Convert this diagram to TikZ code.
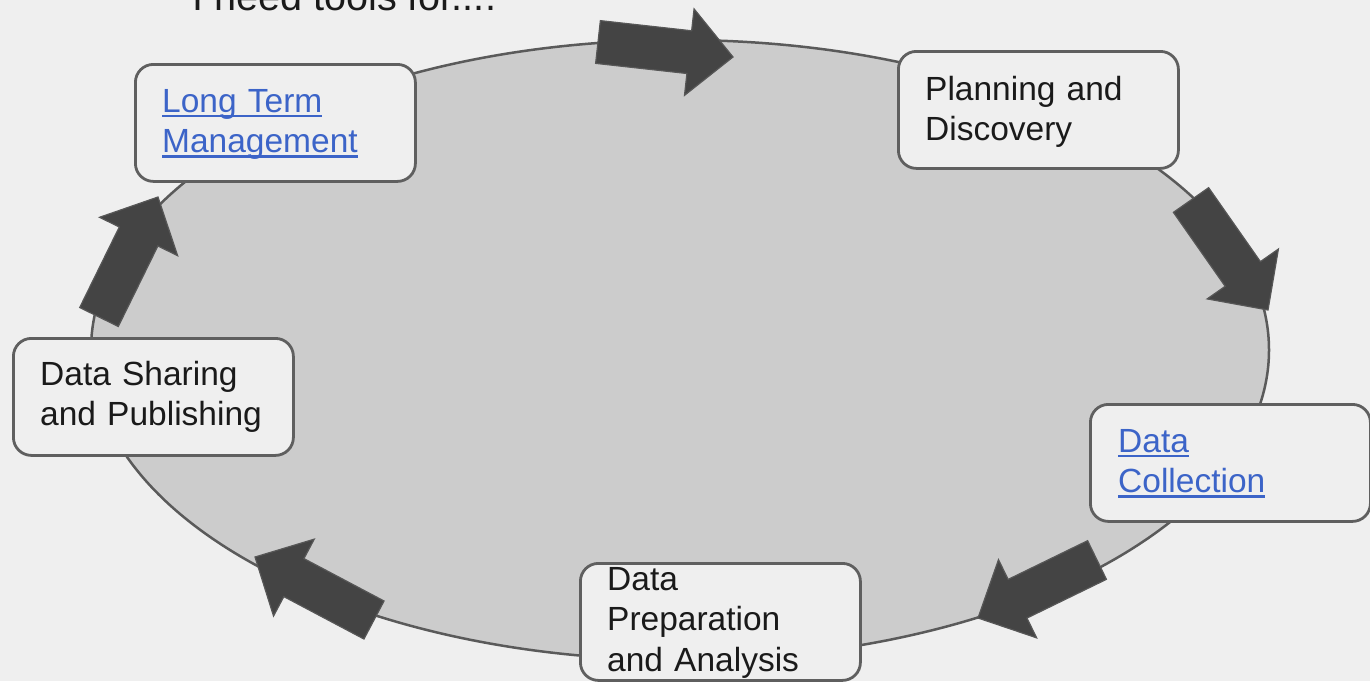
\documentclass[tikz,border=0pt]{standalone}
\usepackage{fontspec}
\setmainfont{Liberation Sans}
\usetikzlibrary{calc}

\definecolor{pagebg}{HTML}{EFEFEF}
\definecolor{cyclefill}{HTML}{CCCCCC}
\definecolor{cycleline}{HTML}{5A5A5A}
\definecolor{boxline}{HTML}{5F5F5F}
\definecolor{arrowgray}{HTML}{444444}
\definecolor{linkblue}{HTML}{3C64C8}
\definecolor{ink}{HTML}{1A1A1A}

% underlined hyperlink-style text
\newcommand\weblink[1]{\leavevmode\setbox0=\hbox{#1}\rlap{\rule[-5pt]{\wd0}{2.4pt}}\box0}

% thick block arrow from tail centre to tip
\newcommand\blockarrow[3]{%
  \coordinate (#1-t) at #2;
  \coordinate (#1-p) at #3;
  \coordinate (#1-h) at ($(#1-p)!44pt!(#1-t)$);
  \filldraw[cyclearrow]
    ($(#1-t)!21.5pt!90:(#1-p)$) -- ($(#1-h)!21.5pt!90:(#1-p)$)
    -- ($(#1-h)!43.5pt!90:(#1-p)$) -- (#1-p)
    -- ($(#1-h)!43.5pt!-90:(#1-p)$) -- ($(#1-h)!21.5pt!-90:(#1-p)$)
    -- ($(#1-t)!21.5pt!-90:(#1-p)$) -- cycle;
}

\tikzset{
  stage/.style={draw=boxline, line width=2.8pt, fill=pagebg, rounded corners=18pt,
    minimum width=280pt, minimum height=117pt, inner sep=0pt, anchor=north west},
  stagetext/.style={anchor=base west, inner sep=0pt, text width=250pt, align=left,
    text=ink, font=\fontsize{33.5}{40.5}\selectfont},
  linktext/.style={stagetext, text=linkblue},
  cyclearrow/.style={fill=arrowgray, draw=arrowgray!90!white, line width=1.2pt, line join=miter},
}

\begin{document}
\begin{tikzpicture}[x=1pt, y=-1pt]
  \useasboundingbox (0,0) rectangle (1370,681);
  \clip (0,0) rectangle (1370,681);
  \fill[pagebg] (0,0) rectangle (1370,681);

  % heading
  \node[anchor=base west, inner sep=0pt, text=ink, font=\fontsize{39.6}{46}\selectfont]
    (heading) at (192,10) {I need tools for....};

  % the cycle
  \filldraw[fill=cyclefill, draw=cycleline, line width=2.5pt] (680,350) ellipse [x radius=589, y radius=310];

  % stages
  \node[stage] (ltm) at (134,63) {};
  \node[linktext] (ltm-t) at ($(ltm.north west)+(28,49)$) {\weblink{Long Term}\\\weblink{Management}};

  \node[stage] (plan) at (897,50) {};
  \node[stagetext] (plan-t) at ($(plan.north west)+(28,50)$) {Planning and\\Discovery};

  \node[stage] (collect) at (1089,403) {};
  \node[linktext] (collect-t) at ($(collect.north west)+(29,49)$) {\weblink{Data}\\\weblink{Collection}};

  \node[stage] (share) at (12,337) {};
  \node[stagetext] (share-t) at ($(share.north west)+(28,48)$) {Data Sharing\\and Publishing};

  \node[stage] (prep) at (579,562) {};
  \node[stagetext] (prep-t) at ($(prep.north west)+(28,28)$) {Data\\Preparation\\and Analysis};

  % arrows around the cycle
  \blockarrow{a1}{(598,42)}{(733,57)}
  \blockarrow{a2}{(1191,200)}{(1268,310)}
  \blockarrow{a3}{(1097,560)}{(978,618)}
  \blockarrow{a4}{(374,620)}{(255,557)}
  \blockarrow{a5}{(99,317)}{(158,197)}
\end{tikzpicture}
\end{document}
